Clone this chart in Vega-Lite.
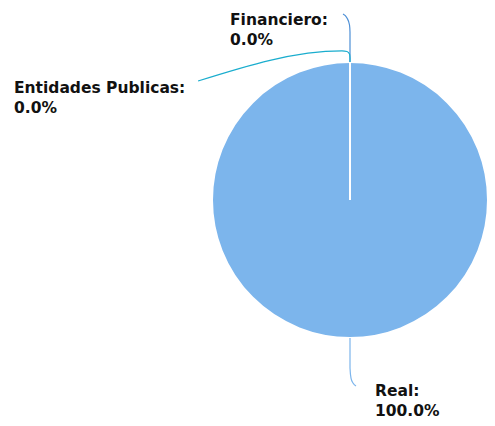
{
  "$schema": "https://vega.github.io/schema/vega-lite/v6.json",
  "width": 276,
  "height": 276,
  "autosize": {"type": "none"},
  "padding": {"left": 212, "top": 62, "right": 7, "bottom": 88},
  "background": "white",
  "config": {"view": {"stroke": null}},
  "datasets": {
    "slices": [
      {"sector": "Real", "value": 100},
      {"sector": "Financiero", "value": 0},
      {"sector": "Entidades Publicas", "value": 0}
    ],
    "labels": [
      {"sector": "Financiero", "label": "Financiero:\n0.0%", "lx": -0.8696, "ly": 1.268},
      {"sector": "Entidades Publicas", "label": "Entidades Publicas:\n0.0%", "lx": -2.435, "ly": 0.775},
      {"sector": "Real", "label": "Real:\n100.0%", "lx": 0.181, "ly": -1.42}
    ],
    "connectors": [
      {"sector": "Financiero", "ord": 1, "cx": -0.0507, "cy": 1.348},
      {"sector": "Financiero", "ord": 2, "cx": -0.0217, "cy": 1.319},
      {"sector": "Financiero", "ord": 3, "cx": -0.0036, "cy": 1.268},
      {"sector": "Financiero", "ord": 4, "cx": 0, "cy": 1.217},
      {"sector": "Financiero", "ord": 5, "cx": 0, "cy": 1.0},
      {"sector": "Entidades Publicas", "ord": 1, "cx": -1.101, "cy": 0.862},
      {"sector": "Entidades Publicas", "ord": 2, "cx": -0.058, "cy": 1.08},
      {"sector": "Entidades Publicas", "ord": 3, "cx": -0.0217, "cy": 1.076},
      {"sector": "Entidades Publicas", "ord": 4, "cx": -0.0036, "cy": 1.058},
      {"sector": "Entidades Publicas", "ord": 5, "cx": 0, "cy": 1.029},
      {"sector": "Entidades Publicas", "ord": 6, "cx": 0, "cy": 1.0},
      {"sector": "Real", "ord": 1, "cx": 0, "cy": -1.0},
      {"sector": "Real", "ord": 2, "cx": 0, "cy": -1.217},
      {"sector": "Real", "ord": 3, "cx": 0.0072, "cy": -1.29},
      {"sector": "Real", "ord": 4, "cx": 0.0217, "cy": -1.326},
      {"sector": "Real", "ord": 5, "cx": 0.0435, "cy": -1.348}
    ]
  },
  "layer": [
    {
      "data": {"name": "slices"},
      "mark": {"type": "arc", "outerRadius": 138, "stroke": "white", "strokeWidth": 2},
      "encoding": {
        "theta": {"field": "value", "type": "quantitative", "stack": true},
        "order": {"field": "sector", "sort": "descending"},
        "color": {
          "field": "sector",
          "type": "nominal",
          "scale": {"domain": ["Real", "Financiero", "Entidades Publicas"], "range": ["#7cb5ec", "#4d8fd6", "#1aadce"]},
          "legend": null
        }
      }
    },
    {
      "data": {"name": "connectors"},
      "mark": {"type": "line", "strokeWidth": 1.2, "interpolate": "monotone"},
      "encoding": {
        "x": {"field": "cx", "type": "quantitative", "scale": {"domain": [-1, 1]}, "axis": null},
        "y": {"field": "cy", "type": "quantitative", "scale": {"domain": [-1, 1]}, "axis": null},
        "order": {"field": "ord"},
        "color": {
          "field": "sector",
          "type": "nominal",
          "scale": {"domain": ["Real", "Financiero", "Entidades Publicas"], "range": ["#7cb5ec", "#4d8fd6", "#1aadce"]},
          "legend": null
        }
      }
    },
    {
      "data": {"name": "labels"},
      "mark": {"type": "text", "align": "left", "baseline": "alphabetic", "lineBreak": "\n", "lineHeight": 20, "font": "DejaVu Sans", "fontWeight": "bold", "fontSize": 15.5, "color": "#111111"},
      "encoding": {
        "x": {"field": "lx", "type": "quantitative", "scale": {"domain": [-1, 1]}, "axis": null},
        "y": {"field": "ly", "type": "quantitative", "scale": {"domain": [-1, 1]}, "axis": null},
        "text": {"field": "label"}
      }
    }
  ]
}
